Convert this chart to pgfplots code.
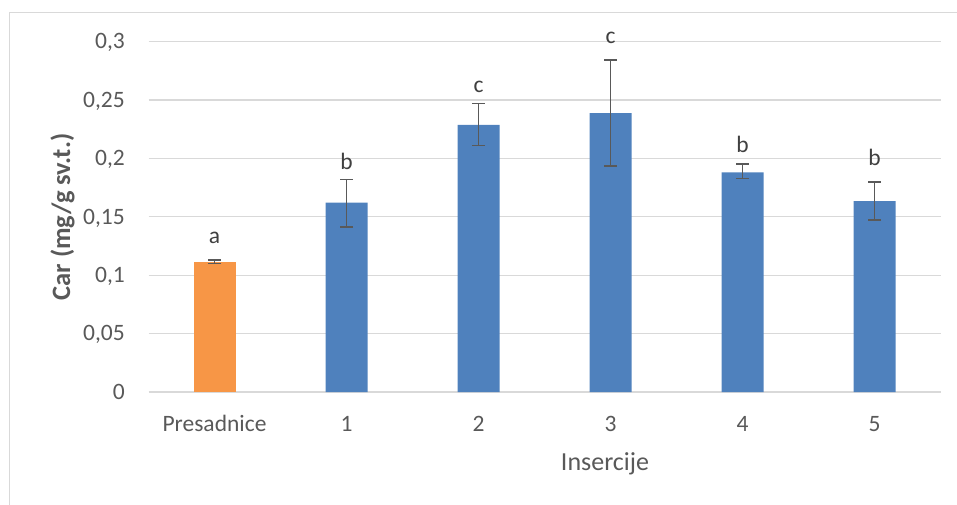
\documentclass[border=0pt]{standalone}
\usepackage{pgfplots}
\pgfplotsset{compat=1.18}
\usepackage{fontspec}
\setmainfont{Carlito}

\definecolor{barblue}{HTML}{4F81BD}
\definecolor{barorange}{HTML}{F79646}
\definecolor{txtgray}{HTML}{595959}
\definecolor{lblgray}{HTML}{404040}
\definecolor{gridgray}{HTML}{D9D9D9}

\pgfplotsset{
	errstyle/.style={
		error bars/.cd, y dir=both, y explicit,
		error bar style={color=txtgray, line width=1.6pt},
		error mark options={rotate=90, color=txtgray, mark size=6.5pt, line width=1.6pt},
	},
}

\begin{document}
\begin{tikzpicture}[x=1pt,y=1pt]
	\useasboundingbox (0,0) rectangle (957,-504);
	% outer chart frame
	\draw[gridgray, line width=1.2pt] (9.5,-520) -- (9.5,-12.5) -- (970,-12.5);
	\begin{axis}[
		at={(148.5pt,-392pt)}, anchor=south west,
		scale only axis,
		width=792pt, height=350.5pt,
		xmin=-0.5, xmax=5.5,
		ymin=0, ymax=0.3,
		clip=false,
		axis line style={draw=none},
		major tick length=0pt,
		xtick={0,1,2,3,4,5},
		xticklabels={Presadnice,1,2,3,4,5},
		ytick={0,0.05,0.1,0.15,0.2,0.25,0.3},
		ymajorgrids,
		grid style={gridgray, line width=1.3pt},
		/pgf/number format/assume math mode=true,
		ticklabel style={font=\fontsize{23.5}{28}\selectfont, text=txtgray, inner sep=0pt},
		yticklabel style={anchor=base east, xshift=-23.5pt, yshift=-7.4pt,
			/pgf/number format/.cd, use comma, fixed, precision=2},
		xticklabel style={anchor=base, yshift=-39pt},
	]
		\addplot[ybar, bar width=42pt, bar shift=0pt, fill=barorange, draw=none, errstyle]
			coordinates {(0,0.1114) +- (0,0.0015)};
		\addplot[ybar, bar width=42pt, bar shift=0pt, fill=barblue, draw=none, errstyle]
			coordinates {
				(1,0.1620) += (0,0.0200) -= (0,0.0210)
				(2,0.2286) += (0,0.0183) -= (0,0.0177)
				(3,0.2386) += (0,0.0454) -= (0,0.0449)
				(4,0.1880) += (0,0.0070) -= (0,0.0054)
				(5,0.1634) += (0,0.0163) -= (0,0.0160)
			};
		% significance letters
		\addplot[draw=none, mark=none, nodes near coords, point meta=explicit symbolic,
			every node near coord/.append style={anchor=base, text=lblgray,
				font=\fontsize{23.5}{28}\selectfont}]
			coordinates {
				(0,0.1269) [a]
				(1,0.1903) [b]
				(2,0.2560) [c]
				(3,0.2983) [c]
				(4,0.2046) [b]
				(5,0.1937) [b]
			};
	\end{axis}
	\node[rotate=90, anchor=base, text=txtgray, font=\fontsize{26.5}{30}\selectfont\bfseries]
		at (70,-217) {Car (mg/g sv.t.)};
	\node[anchor=base, text=txtgray, font=\fontsize{26}{30}\selectfont]
		at (605,-470) {Insercije};
\end{tikzpicture}
\end{document}
